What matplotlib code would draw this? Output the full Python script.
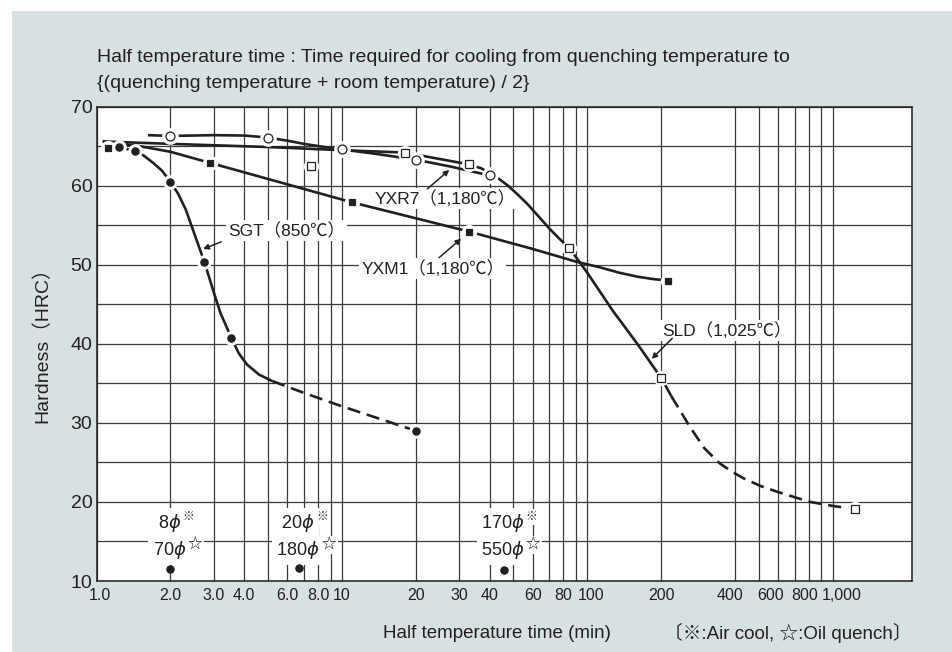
import matplotlib
matplotlib.use('Agg')
import matplotlib.pyplot as plt
import matplotlib.transforms as mtransforms
from matplotlib.patches import Rectangle

plt.rcParams['font.family'] = ['Liberation Sans', 'Noto Sans CJK JP', 'DejaVu Sans']
plt.rcParams['mathtext.fontset'] = 'dejavusans'

INK = '#231f20'
GRID = '#3a3a3a'
BG = '#d8e1e1'

# ---------------- data ----------------
# measured points
sgt_t = [1.23, 1.43, 2.0, 2.75, 3.54, 20]
sgt_h = [64.9, 64.4, 60.5, 50.4, 40.8, 29.0]
yxm1_t = [1.11, 2.9, 11, 33, 214]
yxm1_h = [64.8, 62.9, 57.9, 54.2, 48.0]
yxr7_t = [2.0, 5.0, 10, 20, 40]
yxr7_h = [66.3, 66.1, 64.6, 63.3, 61.3]
sld_t = [7.5, 18, 33, 84.6, 200, 1230]
sld_h = [62.5, 64.2, 62.7, 52.1, 35.7, 19.1]

# drawn curves (node points)
sgt_start_t = [1.23, 1.43]
sgt_start_h = [64.9, 64.4]
sgt_solid_t = [1.43, 1.56, 1.7, 1.85, 2.0, 2.15, 2.31, 2.5, 2.75, 3.0, 3.2, 3.54, 3.8, 4.1, 4.6, 5.2]
sgt_solid_h = [64.4, 63.8, 62.9, 61.9, 60.5, 59.0, 57.0, 54.0, 50.4, 46.6, 43.9, 40.8, 38.8, 37.4, 36.1, 35.3]
sgt_dash_t = [5.2, 7, 10, 14, 20]
sgt_dash_h = [35.3, 33.8, 32.1, 30.6, 29.0]

yxr7_curve_t = [1.62, 2.0, 3.0, 4.0, 5.0, 6.0, 7.0, 8.5, 10, 14, 20, 28, 40]
yxr7_curve_h = [66.4, 66.3, 66.4, 66.35, 66.1, 65.7, 65.3, 64.9, 64.6, 64.0, 63.3, 62.4, 61.3]

yxm1_curve_t = [1.06, 1.5, 2.0, 2.9, 11, 33, 60, 90, 112, 135, 160, 185, 214]
yxm1_curve_h = [65.6, 65.0, 64.3, 62.9, 57.9, 54.2, 52.0, 50.4, 49.7, 49.0, 48.5, 48.2, 48.0]

sld_solid_t = [1.06, 2.0, 5.0, 10, 18, 33, 37, 40, 44, 48, 52, 57, 63, 70, 77, 84.6,
               100, 127, 160, 200, 220]
sld_solid_h = [65.6, 65.3, 64.9, 64.5, 64.2, 62.7, 62.2, 61.6, 60.8, 59.9, 58.9, 57.7, 56.2,
               54.6, 53.3, 52.1, 49.0, 44.2, 40.0, 35.7, 33.4]
sld_dash_t = [220, 262, 300, 346, 390, 433, 510, 593, 700, 811, 1000, 1230]
sld_dash_h = [33.4, 29.5, 26.8, 24.9, 23.8, 23.0, 22.0, 21.3, 20.6, 20.0, 19.5, 19.1]

# bar-size reference points
size_t = [2.0, 6.7, 45.7]
size_h = [11.5, 11.7, 11.35]
size_air = ['8', '20', '170']
size_oil = ['70', '180', '550']

x_ticks = [1, 2, 3, 4, 6, 8, 10, 20, 30, 40, 60, 80, 100, 200, 400, 600, 800, 1000]
x_labels = ['1.0', '2.0', '3.0', '4.0', '6.0', '8.0', '10', '20', '30', '40', '60', '80',
            '100', '200', '400', '600', '800', '1,000']
x_minor = [5, 7, 9, 50, 70, 90, 500, 700, 900]
y_ticks = [10, 20, 30, 40, 50, 60, 70]
y_minor = [15, 25, 35, 45, 55, 65]

# ---------------- figure ----------------
W, H = 952, 652
fig = plt.figure(figsize=(W / 100, H / 100), dpi=100)
fig.patch.set_facecolor('white')
fig.add_artist(Rectangle((12 / W, 0), (W - 12) / W, (H - 11) / H, transform=fig.transFigure,
                         facecolor=BG, edgecolor='none', zorder=-10))

L, R, T, B = 96.5, 911.7, 106.7, 581
ax = fig.add_axes([L / W, 1 - B / H, (R - L) / W, (B - T) / H])
ax.set_facecolor('white')
ax.set_xscale('log')
ax.set_xlim(1, 2100)
ax.set_ylim(10, 70)

ax.set_xticks(x_ticks)
ax.set_xticklabels(x_labels)
ax.set_xticks(x_minor, minor=True)
ax.set_yticks(y_ticks)
ax.set_yticks(y_minor, minor=True)
ax.xaxis.set_minor_formatter(matplotlib.ticker.NullFormatter())
ax.tick_params(axis='both', which='both', length=0, colors=INK)
ax.tick_params(axis='x', labelsize=11.5, pad=5)
ax.tick_params(axis='y', labelsize=14, pad=3)
ax.set_axisbelow(True)
ax.grid(True, which='both', color=GRID, lw=0.9)
for s in ax.spines.values():
    s.set_color(INK)
    s.set_linewidth(1.1)

shifts = {'1.0': 3, '100': 4, '400': -5, '600': -8, '800': -4, '1,000': 9}
for lab in ax.get_xticklabels():
    dx = shifts.get(lab.get_text())
    if dx:
        lab.set_transform(lab.get_transform() +
                          mtransforms.ScaledTranslation(dx / 100, 0, fig.dpi_scale_trans))

LW = 1.9
def curve(t, h, dashed=False):
    kw = dict(color=INK, lw=LW, zorder=4, solid_capstyle='butt', solid_joinstyle='round')
    if dashed:
        ax.plot(t, h, dashes=(5.0, 2.6), **kw)
    else:
        ax.plot(t, h, **kw)

def halo(t, h, ms):
    ax.plot(t, h, ls='none', marker='o', ms=ms, mfc='white', mec='none', zorder=5)

def marks(t, h, marker, filled, ms):
    ax.plot(t, h, ls='none', marker=marker, ms=ms, mfc=INK if filled else 'white',
            mec=INK, mew=0.9, zorder=6)

curve(sgt_start_t, sgt_start_h)
curve(sgt_solid_t, sgt_solid_h)
curve(sgt_dash_t, sgt_dash_h, dashed=True)
curve(yxr7_curve_t, yxr7_curve_h)
curve(yxm1_curve_t, yxm1_curve_h)
curve(sld_solid_t, sld_solid_h)
curve(sld_dash_t, sld_dash_h, dashed=True)

halo(sgt_t, sgt_h, 10.5)
halo(yxm1_t, yxm1_h, 11)
halo(yxr7_t, yxr7_h, 12)
halo(sld_t, sld_h, 11)

marks(sgt_t, sgt_h, 'o', True, 5.2)
marks(yxm1_t, yxm1_h, 's', True, 5.0)
marks(yxr7_t, yxr7_h, 'o', False, 6.4)
marks(sld_t, sld_h, 's', False, 5.4)
marks(size_t, size_h, 'o', True, 5.2)

# ---------------- annotations ----------------
box = dict(facecolor='white', edgecolor='none', pad=1.5)
arrow = dict(arrowstyle='-|>', color=INK, lw=1.1, mutation_scale=8, shrinkA=0, shrinkB=0)
ANN = 12.5

def label(text, xy_text, tail, tip):
    ax.text(xy_text[0], xy_text[1], text, fontsize=ANN, color=INK, ha='left', va='center',
            bbox=box, zorder=3)
    ax.annotate('', xy=tip, xytext=tail, arrowprops=arrow, zorder=7)

label('SGT（850℃）', (3.43, 54.3), (3.22, 52.9), (2.72, 52.0))
label('YXR7（1,180℃）', (13.6, 58.4), (22.3, 59.6), (27.4, 62.0))
label('YXM1（1,180℃）', (12.0, 49.5), (24.9, 50.9), (30.6, 53.3))
label('SLD（1,025℃）', (202, 41.7), (222, 40.7), (183, 38.1))

SZ = 13
for t, h, a, o in zip(size_t, size_h, size_air, size_oil):
    x = t * 1.0
    t1 = ax.text(x * 0.99, 17.3, a + r'$\phi$', fontsize=SZ, color=INK, ha='center', va='center',
                 bbox=dict(facecolor='white', edgecolor='none', pad=3), zorder=3)
    t2 = ax.text(x * 0.99, 13.9, o + r'$\phi$', fontsize=SZ, color=INK, ha='center', va='center',
                 bbox=dict(facecolor='white', edgecolor='none', pad=3), zorder=3)
    ax.annotate('※', xy=(1, 1), xycoords=t1, xytext=(1, 1), textcoords='offset points',
                ha='left', va='top', fontsize=8.5, color=INK,
                bbox=dict(facecolor='white', edgecolor='none', pad=1.5), zorder=3)
    ax.annotate('☆', xy=(1, 1), xycoords=t2, xytext=(1, 1), textcoords='offset points',
                ha='left', va='top', fontsize=10.5, color=INK,
                bbox=dict(facecolor='white', edgecolor='none', pad=1.5), zorder=3)

# ---------------- titles / axis labels ----------------
fig.text(97 / W, 1 - 62 / H,
         'Half temperature time : Time required for cooling from quenching temperature to',
         fontsize=14, color=INK, ha='left', va='baseline')
fig.text(97 / W, 1 - 88 / H, '{(quenching temperature + room temperature) / 2}',
         fontsize=14, color=INK, ha='left', va='baseline')
fig.text(42 / W, 1 - 340 / H, 'Hardness（HRC）', rotation=90, fontsize=14, color=INK,
         ha='center', va='center')
fig.text(497 / W, 1 - 633 / H, 'Half temperature time (min)', fontsize=13.5, color=INK,
         ha='center', va='center')
fig.text(R / W, 1 - 633 / H, '〔※:Air cool, ☆:Oil quench〕', fontsize=13.5, color=INK,
         ha='right', va='center')

fig.savefig('out.png', dpi=100, facecolor=fig.get_facecolor())
